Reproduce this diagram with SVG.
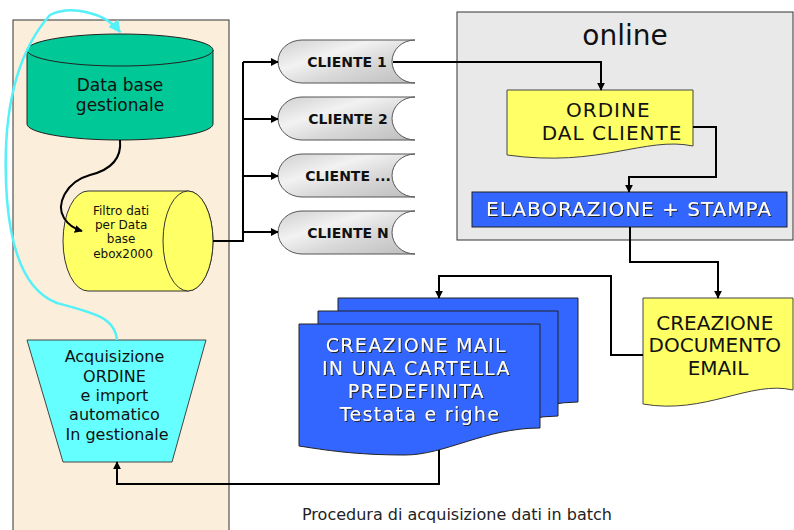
<svg xmlns="http://www.w3.org/2000/svg" width="794" height="530" viewBox="0 0 794 530">
<defs>
  <marker id="arr" viewBox="0 0 10 10" refX="9" refY="5" markerWidth="4" markerHeight="4" orient="auto" markerUnits="strokeWidth">
    <path d="M0,0 L10,5 L0,10 z" fill="#000"/>
  </marker>
  <marker id="arrC" viewBox="0 0 10 10" refX="9" refY="5" markerWidth="5" markerHeight="5" orient="auto" markerUnits="strokeWidth">
    <path d="M0,0 L10,5 L0,10 z" fill="#55f0f8"/>
  </marker>
  <linearGradient id="marble" x1="0" y1="0" x2="1" y2="1">
    <stop offset="0" stop-color="#cfcfcf"/>
    <stop offset="0.35" stop-color="#f2f2f2"/>
    <stop offset="0.6" stop-color="#d9d9d9"/>
    <stop offset="1" stop-color="#bdbdbd"/>
  </linearGradient>
  <filter id="sh" x="-5%" y="-20%" width="110%" height="140%">
    <feDropShadow dx="1" dy="1" stdDeviation="0.3" flood-color="#222" flood-opacity="1"/>
  </filter>
  <style>
    .ln{fill:none;stroke:#000;stroke-width:2}
    .sans{font-family:"DejaVu Sans","Verdana",sans-serif}
    .ctr{text-anchor:middle}
    .wt{fill:#fff;filter:url(#sh)}
    .blue{fill:#3366ff;stroke:#222;stroke-width:1}
    .yel{fill:#ffff66;stroke:#444;stroke-width:1}
    .cli{fill:url(#marble);stroke:#555;stroke-width:1}
  </style>
</defs>
<rect x="0" y="0" width="794" height="530" fill="#fff"/>

<g id="panel-batch">
  <rect x="13" y="20" width="216" height="512" fill="#fbefdc" stroke="#333" stroke-width="1"/>
</g>
<g id="panel-online">
  <rect x="457" y="12" width="336" height="228" fill="#e9e9e9" stroke="#333" stroke-width="1"/>
  <text x="625" y="45" class="sans ctr" font-size="28" fill="#111">online</text>
</g>

<g id="db-gestionale">
  <path d="M27,50 V124 A93,16 0 0 0 213,124 V50" fill="#00c896" stroke="#222" stroke-width="1"/>
  <ellipse cx="120" cy="50" rx="93" ry="16" fill="#00c896" stroke="#222" stroke-width="1"/>
  <text x="120" y="91" class="sans ctr" font-size="17" fill="#111">Data base</text>
  <text x="120" y="111" class="sans ctr" font-size="17" fill="#111">gestionale</text>
</g>

<g id="filtro-dati">
  <path d="M88,191 H188 A25,50 0 0 1 188,291 H88 A25,50 0 0 1 88,191 Z" fill="#ffff66" stroke="#333" stroke-width="1"/>
  <ellipse cx="188" cy="241" rx="25" ry="50" fill="#ffff66" stroke="#333" stroke-width="1"/>
  <text class="sans ctr" font-size="12" fill="#111">
    <tspan x="123" y="215">Filtro dati</tspan>
    <tspan x="123" y="229">per Data</tspan>
    <tspan x="123" y="243">base</tspan>
    <tspan x="123" y="258">ebox2000</tspan>
  </text>
</g>

<g id="acquisizione">
  <polygon points="27,340 206,340 172,462 63,462" fill="#66ffff" stroke="#444" stroke-width="1"/>
  <text class="sans ctr" font-size="16" fill="#111">
    <tspan x="117" y="362">Acquisizione</tspan>
    <tspan x="117" y="382">ORDINE</tspan>
    <tspan x="117" y="401">e import</tspan>
    <tspan x="117" y="420">automatico</tspan>
    <tspan x="117" y="440">In gestionale</tspan>
  </text>
</g>

<g id="cliente-1">
  <path class="cli" d="M302,40 H415 A23,21.5 0 0 0 415,83 H302 A24,21.5 0 0 1 302,40 Z"/>
  <text x="347" y="67" class="sans ctr" font-size="14" font-weight="bold" fill="#111">CLIENTE 1</text>
</g>
<g id="cliente-2">
  <path class="cli" d="M302,97 H415 A23,21.5 0 0 0 415,140 H302 A24,21.5 0 0 1 302,97 Z"/>
  <text x="348" y="124" class="sans ctr" font-size="14" font-weight="bold" fill="#111">CLIENTE 2</text>
</g>
<g id="cliente-dots">
  <path class="cli" d="M302,154 H415 A23,21.5 0 0 0 415,197 H302 A24,21.5 0 0 1 302,154 Z"/>
  <text x="348" y="181" class="sans ctr" font-size="14" font-weight="bold" fill="#111">CLIENTE ...</text>
</g>
<g id="cliente-n">
  <path class="cli" d="M302,211 H415 A23,21.5 0 0 0 415,254 H302 A24,21.5 0 0 1 302,211 Z"/>
  <text x="348" y="238" class="sans ctr" font-size="14" font-weight="bold" fill="#111">CLIENTE N</text>
</g>

<g id="ordine-cliente">
  <path class="yel" d="M507,90 H693 V146 C645,136 600,168 507,155 Z"/>
  <text class="sans ctr" font-size="20" letter-spacing="1" fill="#111">
    <tspan x="612" y="117">ORDINE</tspan>
    <tspan x="612" y="140">DAL CLIENTE</tspan>
  </text>
</g>

<g id="elaborazione">
  <rect x="472" y="192" width="315" height="35" class="blue"/>
  <text x="629" y="216" class="sans ctr wt" font-size="20" letter-spacing="1">ELABORAZIONE + STAMPA</text>
</g>

<g id="documento-email">
  <path class="yel" d="M643,298 H793 V390 C750,380 705,415 643,404 Z"/>
  <text class="sans ctr" font-size="20" fill="#111">
    <tspan x="718" y="330">CREAZIONE</tspan>
    <tspan x="718" y="352">DOCUMENTO</tspan>
    <tspan x="718" y="375">EMAIL</tspan>
  </text>
</g>

<g id="creazione-mail">
  <path class="blue" d="M338,298 H578 V402 C540,402 500,420 470,425 C420,430 380,425 338,420 Z"/>
  <path class="blue" d="M318,311 H558 V416 C520,416 480,435 450,438 C400,443 360,438 318,433 Z"/>
  <path class="blue" d="M299,324 H540 V428 C485,428 445,455 405,455 C355,455 325,450 299,446 Z"/>
  <text class="sans ctr wt" font-size="19" letter-spacing="1.3">
    <tspan x="420" y="352">CREAZIONE MAIL</tspan>
    <tspan x="420" y="375">IN UNA CARTELLA</tspan>
    <tspan x="420" y="398">PREDEFINITA</tspan>
    <tspan x="420" y="421">Testata e righe</tspan>
  </text>
</g>

<g id="connectors">
  <path class="ln" d="M120,140 C122,160 110,170 90,175 C65,182 56,205 64,218 C69,226 75,229 82,231" stroke-width="1.5" marker-end="url(#arr)"/>
  <path d="M117,340 C115,318 95,313 57,303 C30,293 12,260 7,200 C2,130 10,60 50,15 C70,5 105,12 120,32" fill="none" stroke="#55f0f8" stroke-width="2.5" marker-end="url(#arrC)"/>
  <path class="ln" d="M213,241 H243 V62"/>
  <path class="ln" d="M243,62 H278" marker-end="url(#arr)"/>
  <path class="ln" d="M243,119 H278" marker-end="url(#arr)"/>
  <path class="ln" d="M243,176 H278" marker-end="url(#arr)"/>
  <path class="ln" d="M243,232 H278" marker-end="url(#arr)"/>
  <path class="ln" d="M393,62 H601 V90" marker-end="url(#arr)"/>
  <path class="ln" d="M693,127 H716 V177 H629 V192" marker-end="url(#arr)"/>
  <path class="ln" d="M630,227 V262 H718 V298" marker-end="url(#arr)"/>
  <path class="ln" d="M643,355 H611 V276 H439 V298" marker-end="url(#arr)"/>
  <path class="ln" d="M439,450 V484 H117 V462" marker-end="url(#arr)"/>
</g>

<g id="caption">
  <text x="302" y="520" class="sans" font-size="16" fill="#222">Procedura di acquisizione dati in batch</text>
</g>
</svg>
